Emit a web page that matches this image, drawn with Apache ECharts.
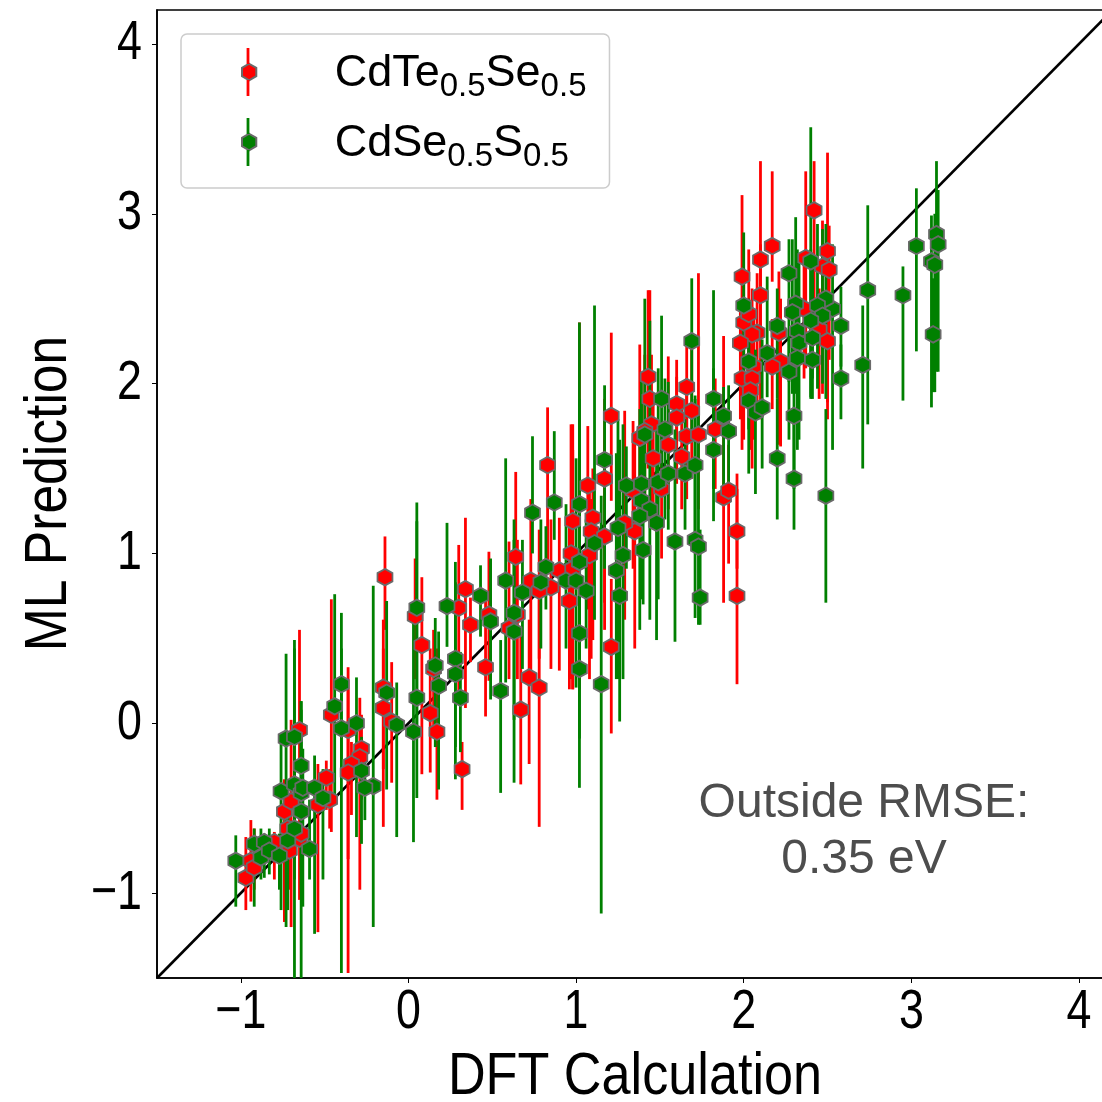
<!DOCTYPE html>
<html>
<head>
<meta charset="utf-8">
<style>html,body{margin:0;padding:0;background:#fff}#c{width:1102px;height:1102px}</style>
<script src="https://cdn.jsdelivr.net/npm/echarts@6/dist/echarts.min.js"></script>
</head>
<body>
<div id="c"></div>
<script>
// each row: [DFT value, ML prediction, lower whisker, upper whisker]
const redPoints = [
[2.42,3.02,2.50,3.31],[2.37,2.74,2.09,3.25],[2.50,2.78,1.89,3.36],[2.47,2.69,1.94,2.96],[2.51,2.67,2.14,2.93],
[2.17,2.81,2.60,3.25],[2.10,2.73,2.26,3.31],[2.10,2.52,1.79,2.82],[1.99,2.63,1.79,3.11],[2.00,2.36,1.67,2.68],
[2.03,2.41,2.00,2.79],[2.08,2.30,1.85,2.65],[2.05,2.29,1.79,2.56],[1.98,2.24,1.79,2.50],[2.21,2.30,1.64,2.66],
[2.36,2.44,2.03,2.72],[2.45,2.32,1.91,2.56],[2.50,2.25,1.79,2.56],[2.22,2.13,1.63,2.50],[2.17,2.10,1.85,2.38],
[2.06,2.10,1.67,2.38],[1.99,2.03,1.61,2.44],[2.05,2.03,1.50,2.38],[2.04,1.96,1.61,2.32],[1.43,2.04,1.50,2.55],
[1.44,1.91,1.56,2.55],[1.66,1.98,1.61,2.27],[1.60,1.88,1.50,2.04],[1.69,1.84,1.44,2.20],[1.60,1.80,1.41,2.14],
[1.45,1.76,1.20,2.17],[1.41,1.72,1.32,2.17],[1.38,1.68,1.14,2.23],[1.55,1.64,1.26,2.16],[1.66,1.69,1.32,2.03],
[1.73,1.70,1.26,2.65],[1.63,1.57,1.26,1.91],[1.46,1.56,1.14,1.94],[1.51,1.38,0.97,1.73],[1.34,1.37,0.91,1.78],
[1.35,1.13,0.44,1.67],[1.29,1.18,0.61,1.84],[1.83,1.73,1.38,2.03],[1.96,0.75,0.23,1.47],[1.96,1.13,0.91,1.38],
[1.88,1.33,0.71,2.28],[1.91,1.37,0.94,1.64],[1.21,1.81,1.31,2.30],[1.17,1.44,0.71,1.91],[1.07,1.40,0.67,1.75],
[0.83,1.52,0.91,1.86],[0.98,1.19,0.20,1.76],[1.10,1.21,0.49,1.50],[1.09,1.13,0.38,1.32],[1.17,1.10,0.55,1.67],
[0.97,1.00,0.26,1.76],[1.08,0.99,0.26,1.44],[0.90,0.90,0.31,1.21],[0.98,0.91,0.20,1.61],[0.64,0.98,0.49,1.48],
[0.73,0.84,0.26,1.32],[0.85,0.80,0.32,1.20],[0.78,0.78,0.38,1.14],[0.96,0.72,0.20,1.20],[0.34,0.79,0.09,1.21],
[0.30,0.68,0.14,1.05],[0.37,0.58,0.36,0.74],[0.48,0.64,0.25,1.01],[0.60,0.56,0.26,1.07],[0.65,0.64,0.26,1.08],
[0.08,0.46,-0.30,0.86],[0.04,0.63,0.26,0.97],[0.15,0.32,-0.06,0.55],[0.46,0.33,0.04,0.73],[0.72,0.27,-0.24,0.61],
[0.78,0.21,-0.61,0.73],[1.21,0.45,-0.06,0.85],[0.67,0.08,-0.36,0.54],[0.13,0.06,-0.29,0.44],[0.17,-0.05,-0.45,0.44],
[-0.15,0.09,-0.27,0.44],[-0.15,0.21,-0.61,0.61],[-0.10,0.01,-0.35,0.36],[0.32,-0.27,-0.51,-0.11],[-0.14,0.86,0.55,1.10],
[-0.28,-0.15,-0.45,0.05],[-0.29,-0.20,-0.98,0.15],[-0.34,-0.24,-0.54,-0.11],[-0.36,-0.04,-0.80,0.33],[-0.36,-0.29,-1.47,0.20],
[-0.46,0.05,-0.64,0.73],[-0.49,-0.32,-0.51,-0.22],[-0.47,-0.45,-0.62,-0.27],[-0.65,-0.04,-0.21,0.55],[-0.97,-0.91,-1.10,-0.67],
[-0.94,-0.81,-1.05,-0.57],[-0.92,-0.85,-0.98,-0.62],[-0.80,-0.70,-0.92,-0.64],[-0.74,-0.52,-1.17,-0.33],[-0.70,-0.46,-1.20,0.02],
[-0.72,-0.62,-0.92,-0.39],[-0.65,-0.68,-1.04,-0.45],[-0.54,-0.48,-1.23,-0.24],[-0.71,-0.75,-0.98,-0.51],[-0.64,-0.65,-0.92,-0.39],
[1.02,0.95,0.20,2.36]
];
const greenPoints = [
[3.03,2.81,2.19,3.15],[2.95,2.52,1.90,2.69],[2.74,2.55,1.76,3.05],[2.71,2.11,1.50,2.46],[3.15,2.88,2.07,3.31],
[3.16,2.82,2.07,3.14],[3.12,2.72,1.86,2.99],[3.14,2.70,1.95,3.00],[3.13,2.29,1.95,2.62],[2.58,2.34,2.10,2.57],
[2.58,2.03,1.79,2.23],[2.53,2.44,1.61,2.82],[2.49,2.50,1.91,2.94],[2.44,2.46,1.97,2.94],[2.47,2.40,2.00,2.91],
[2.49,1.34,0.71,1.85],[2.40,2.72,1.92,3.51],[2.31,2.47,1.94,2.98],[2.29,2.42,1.94,2.85],[2.40,2.37,1.91,2.79],
[2.32,2.31,1.79,2.79],[2.33,2.24,1.67,2.73],[2.41,2.27,2.03,2.68],[2.32,2.15,1.61,2.56],[2.41,2.14,1.91,2.62],
[2.27,2.65,2.01,2.85],[2.27,2.07,1.67,2.32],[2.30,1.81,1.38,2.20],[2.30,1.44,1.14,1.79],[2.20,2.34,1.91,2.56],
[2.20,1.56,1.20,1.91],[2.14,2.18,1.92,2.63],[2.00,2.46,2.03,2.89],[2.03,2.13,1.73,2.50],[1.69,2.25,1.73,2.62],
[1.82,1.91,1.38,2.55],[1.82,1.61,1.19,2.09],[1.88,1.81,1.38,1.98],[1.91,1.72,1.32,1.99],[2.03,1.90,1.47,2.26],
[2.07,1.83,1.35,2.20],[2.11,1.86,1.50,2.26],[0.74,1.24,1.00,1.69],[0.87,1.30,1.08,1.72],[1.02,1.29,0.61,2.36],
[1.17,1.55,0.91,1.99],[0.58,0.84,0.24,1.56],[0.43,0.75,0.51,0.93],[0.23,0.69,0.45,1.18],[0.05,0.68,-0.04,1.30],
[0.05,0.15,-0.44,1.19],[0.03,-0.05,-0.70,0.61],[0.68,0.77,0.32,1.08],[0.79,0.83,0.44,1.20],[0.82,0.92,0.67,1.16],
[0.94,0.84,0.44,1.29],[1.00,0.84,0.21,1.56],[1.06,0.78,0.44,1.20],[1.02,0.95,0.49,1.91],[1.15,0.23,-1.12,1.34],
[1.11,1.06,0.61,2.46],[1.25,1.15,0.26,1.79],[1.28,0.99,0.26,1.76],[1.26,0.75,0.01,1.67],[1.24,0.90,0.26,1.59],
[1.02,0.53,-0.09,1.14],[1.02,0.32,-0.38,0.97],[0.49,0.60,0.14,0.97],[0.55,0.19,-0.41,0.49],[0.63,0.65,0.02,1.20],
[0.63,0.54,-0.35,1.08],[0.28,0.38,-0.14,0.95],[0.28,0.29,-0.33,0.83],[0.16,0.34,-0.14,0.62],[0.18,0.22,-0.39,0.54],
[0.31,0.15,-0.17,0.42],[-0.13,0.18,-0.39,0.72],[-0.07,-0.01,-0.67,0.24],[-0.21,-0.37,-1.20,0.81],[-0.31,0.00,-0.67,0.27],
[-0.40,0.23,-0.21,0.65],[-0.40,-0.03,-1.47,0.44],[-0.44,0.10,-0.45,0.76],[-0.26,-0.38,-0.57,-0.21],[-0.28,-0.28,-0.71,-0.08],
[-1.03,-0.81,-1.08,-0.66],[-0.92,-0.71,-1.08,-0.62],[-0.86,-0.70,-0.91,-0.65],[-0.88,-0.79,-0.92,-0.62],[-0.83,-0.75,-0.89,-0.62],
[-0.77,-0.78,-0.98,-0.65],[-0.72,-0.69,-1.10,-0.45],[-0.76,-0.40,-1.10,-0.11],[-0.73,-0.09,-1.20,0.41],[-0.68,-0.36,-1.50,0.49],
[-0.68,-0.62,-0.92,-0.27],[-0.64,-0.41,-1.50,0.08],[-0.64,-0.52,-0.98,0.13],[-0.64,-0.25,-0.86,0.13],[-0.63,-0.38,-1.08,-0.15],
[-0.59,-0.74,-0.92,-0.45],[-0.56,-0.38,-1.24,-0.19],[-0.51,-0.44,-0.92,-0.27],[-0.68,-0.08,-0.62,0.44],[1.30,1.40,0.91,1.63],
[1.39,1.41,0.79,2.03],[1.49,1.42,0.73,2.09],[1.39,1.31,0.73,1.91],[1.44,1.26,0.61,2.37],[1.38,1.22,0.55,1.85],
[1.48,1.18,0.49,1.79],[1.55,1.47,1.14,2.01],[1.65,1.47,1.14,1.79],[1.71,1.52,1.08,1.93],[1.71,1.08,0.62,1.91],
[1.73,1.04,0.58,1.82],[1.74,0.74,0.58,1.14],[1.59,1.07,0.48,1.73],[1.40,1.02,0.70,1.67],[1.53,1.73,1.20,2.03],
[1.41,1.70,1.26,2.50],[1.51,1.91,1.50,2.40]
];
const seriesNames = ['CdTe0.5Se0.5', 'CdSe0.5S0.5'];
const legendParts = [['CdTe','Se'], ['CdSe','S']];
const identityLine = [[-1.5,-1.5],[4.2,4.2]];
const tickValues = [-1,0,1,2,3,4];
const axisTitles = ['DFT Calculation', 'ML Prediction'];
const noteLines = ['Outside RMSE:', '0.35 eV'];

const HEX = 'path://M0,-1 L0.866,-0.5 L0.866,0.5 L0,1 L-0.866,0.5 L-0.866,-0.5 Z';
const SANS = '"Liberation Sans",Arial,sans-serif';
const fmt = v => (v < 0 ? '\u2212' + Math.abs(v) : String(v));

function bars(name, rows, color, z) {
  return {
    type: 'custom', name: name, data: rows, z: z, clip: true, silent: true,
    encode: {x: 0, y: [1,2,3]},
    renderItem: function (params, api) {
      const a = api.coord([api.value(0), api.value(2)]);
      const b = api.coord([api.value(0), api.value(3)]);
      return {type: 'line', shape: {x1: a[0], y1: a[1], x2: b[0], y2: b[1]},
              style: {stroke: color, lineWidth: 2.8}};
    }
  };
}
function marks(name, rows, color, z) {
  return {
    type: 'scatter', name: name, z: z, symbol: HEX, symbolSize: [15, 16.5], silent: true,
    data: rows.map(r => [r[0], r[1]]),
    itemStyle: {color: color, borderColor: '#6a6a6a', borderWidth: 1.8, opacity: 1}
  };
}
// tick labels are condensed, so they are drawn as text at the axis scale positions
function tickLabels(isX) {
  return {
    type: 'custom', name: isX ? 'x tick labels' : 'y tick labels', z: 6, clip: false, silent: true,
    data: tickValues.map(v => isX ? [v, -1.5] : [-1.5, v]),
    encode: {x: 0, y: 1},
    renderItem: function (params, api) {
      const p = api.coord([api.value(0), api.value(1)]);
      const v = isX ? api.value(0) : api.value(1);
      return {type: 'text', x: isX ? p[0] : p[0] - 15, y: isX ? p[1] + 35 : p[1],
              scaleX: 0.8, silent: true,
              style: {text: fmt(v), font: '56px ' + SANS, fill: '#000',
                      align: isX ? 'center' : 'right', verticalAlign: 'middle'}};
    }
  };
}
const tickStyle = {show: true, length: 5, inside: false, customValues: tickValues, lineStyle: {color: '#000', width: 1}};
const legendLineStyle = (c) => ({stroke: c, lineWidth: 2.8});

const chart = echarts.init(document.getElementById('c'), null, {renderer: 'canvas'});
chart.setOption({
  animation: false,
  backgroundColor: '#fff',
  grid: {left: 157, top: 10, width: 955.5, height: 968, show: true, borderColor: '#000', borderWidth: 1.6,
         containLabel: false, outerBoundsMode: 'none'},
  xAxis: {
    type: 'value', min: -1.5, max: 4.2,
    axisLine: {show: true, onZero: false, lineStyle: {color: '#000', width: 1.6}},
    axisTick: tickStyle, splitLine: {show: false}, axisLabel: {show: false}
  },
  yAxis: {
    type: 'value', min: -1.5, max: 4.2,
    axisLine: {show: true, onZero: false, lineStyle: {color: '#000', width: 1.6}},
    axisTick: tickStyle, splitLine: {show: false}, axisLabel: {show: false}
  },
  legend: {
    show: true, orient: 'vertical', left: 181, top: 34, selectedMode: false,
    padding: [7, 23, 15, 60], itemGap: 8, itemWidth: 15, itemHeight: 16.5,
    backgroundColor: '#fff', borderColor: '#cccccc', borderWidth: 1.5, borderRadius: 6,
    data: seriesNames.map(n => ({name: n, icon: HEX})),
    formatter: function (name) {
      const p = legendParts[seriesNames.indexOf(name)];
      return '{sp| }{m|' + p[0] + '}{s|0.5}{m|' + p[1] + '}{s|0.5}';
    },
    textStyle: {
      fontFamily: SANS, color: '#000',
      rich: {
        sp: {width: 73, fontSize: 10, lineHeight: 62},
        m: {fontFamily: SANS, fontSize: 45, lineHeight: 62, color: '#000', verticalAlign: 'top', padding: [10, 0, 0, 0]},
        s: {fontFamily: SANS, fontSize: 33, lineHeight: 62, color: '#000', verticalAlign: 'bottom'}
      }
    }
  },
  graphic: [
    {type: 'line', z: 100, shape: {x1: 248, y1: 48, x2: 248, y2: 64}, style: legendLineStyle('#ff0000')},
    {type: 'line', z: 100, shape: {x1: 248, y1: 80, x2: 248, y2: 96}, style: legendLineStyle('#ff0000')},
    {type: 'line', z: 100, shape: {x1: 248, y1: 118, x2: 248, y2: 134}, style: legendLineStyle('#008000')},
    {type: 'line', z: 100, shape: {x1: 248, y1: 150, x2: 248, y2: 166}, style: legendLineStyle('#008000')},
    {type: 'text', z: 100, x: 864, y: 831.5, style: {text: noteLines.join('\n'), fill: '#4d4d4d',
      font: '48px ' + SANS, align: 'center', verticalAlign: 'middle', lineHeight: 56}},
    {type: 'text', z: 100, x: 635, y: 1077, scaleX: 0.87, style: {text: axisTitles[0], fill: '#000',
      font: '60px ' + SANS, align: 'center', verticalAlign: 'middle'}},
    {type: 'text', z: 100, x: 49, y: 493.5, rotation: Math.PI / 2, scaleX: 0.86, style: {text: axisTitles[1], fill: '#000',
      font: '60px ' + SANS, align: 'center', verticalAlign: 'middle'}}
  ],
  series: [
    {type: 'line', name: 'y = x', data: identityLine, z: 1, symbol: 'none', silent: true,
     lineStyle: {color: '#000', width: 2.6}},
    bars('err-red', redPoints, '#ff0000', 2),
    bars('err-green', greenPoints, '#008000', 3),
    marks(seriesNames[0], redPoints, '#ff0000', 4),
    marks(seriesNames[1], greenPoints, '#008000', 5),
    tickLabels(true),
    tickLabels(false)
  ]
});
</script>
</body>
</html>
